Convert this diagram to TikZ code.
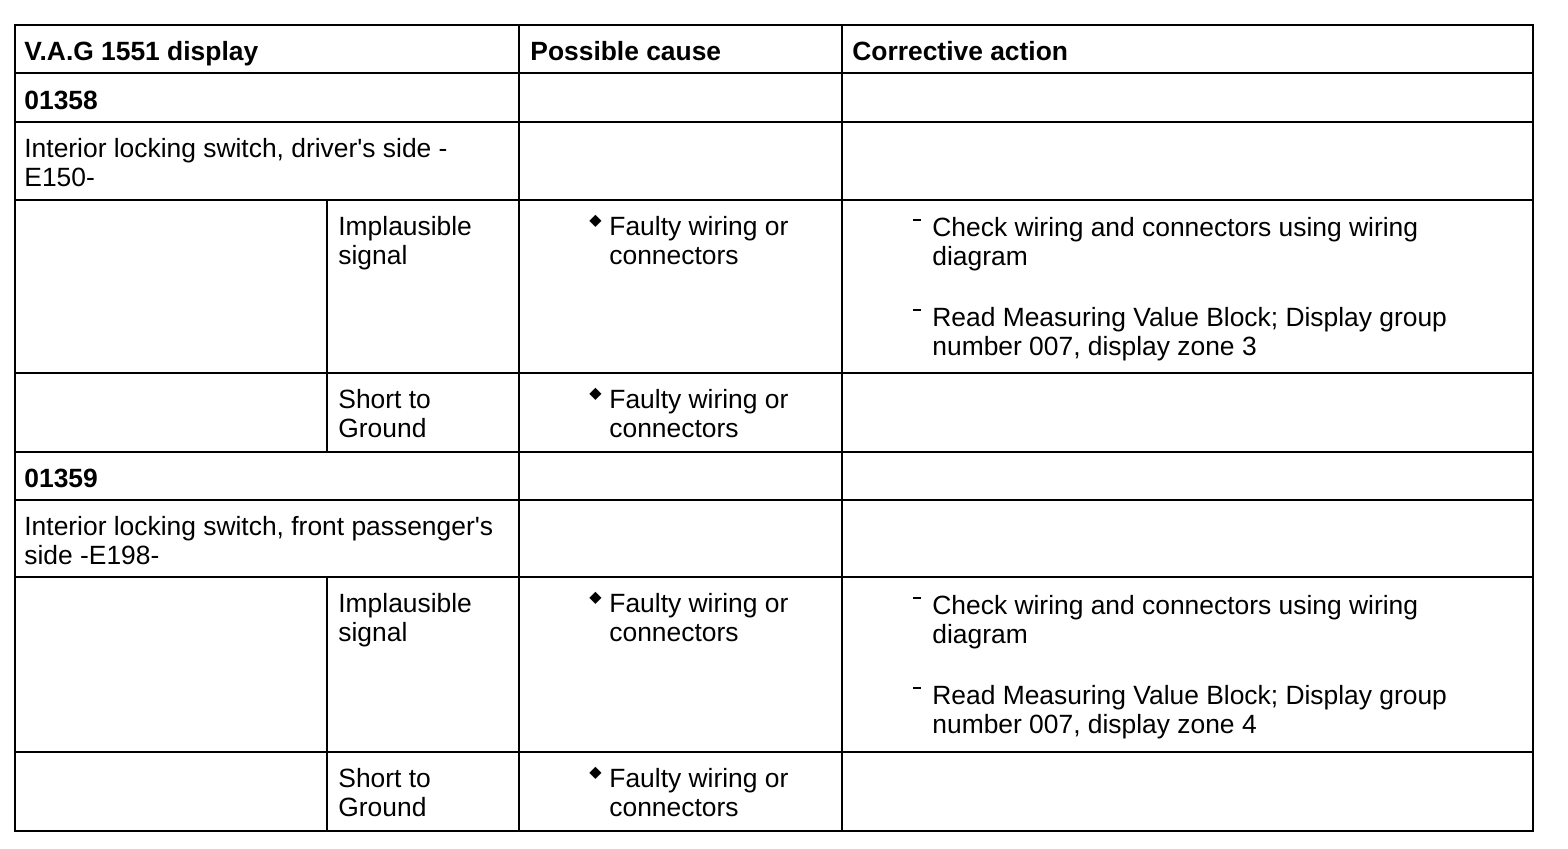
\documentclass[tikz,border=0pt]{standalone}
\usepackage{fontspec}
\setmainfont{Liberation Sans}
\newfontfamily\symfont{DejaVu Sans}
\tikzset{
  cell/.style={anchor=base west, inner sep=0pt, align=left,
    font=\fontsize{13.2}{14.5}\selectfont},
  cell2/.style={cell, yshift=-14.5pt},
  head/.style={cell, font=\bfseries\fontsize{13.2}{14.5}\selectfont},
  grid line/.style={line width=1.4pt},
}
\newcommand{\diamondmark}{\raisebox{4.6pt}{\symfont\fontsize{8}{8}\selectfont ◆}}
\newcommand{\dashmark}{\rule[7.6pt]{4pt}{1pt}}
\begin{document}
\begin{tikzpicture}[x=0.5pt,y=-0.5pt]
    \useasboundingbox (0,0) rectangle (1568,848);

        % rows
    \foreach \r in {25,73,122,200,373,452,500,577,752,831}
        \draw[grid line] (14,\r) -- (1534,\r);

        % columns
    \draw[grid line] (15,25)   -- (15,831);
    \draw[grid line] (519,25)  -- (519,831);
    \draw[grid line] (842,25)  -- (842,831);
    \draw[grid line] (1533,25) -- (1533,831);
    \draw[grid line] (327,200) -- (327,452);
    \draw[grid line] (327,577) -- (327,831);

        % header
    \node[head] (hdisplay) at (24,60)  {V.A.G 1551 display};
    \node[head] (hcause)   at (530,60) {Possible cause};
    \node[head] (haction)  at (852,60) {Corrective action};

        % 01358 (two-line cells placed by their first baseline)
    \node[head]  (codeA)   at (24,109) {01358};
    \node[cell2] (switchA) at (24,157) {Interior locking switch, driver\textquotesingle s side -\\E150-};
    \node[cell2] (implA)   at (338,235) {Implausible\\signal};
    \node[cell]  (markA)   at (589,235) {\diamondmark};
    \node[cell2] (causeA)  at (609,235) {Faulty wiring or\\connectors};
    \node[cell]  (dashA)   at (913,236) {\dashmark};
    \node[cell2] (checkA)  at (932,236) {Check wiring and connectors using wiring\\diagram};
    \node[cell]  (dashB)   at (913,326) {\dashmark};
    \node[cell2] (readA)   at (932,326) {Read Measuring Value Block; Display group\\number 007, display zone 3};
    \node[cell2] (shortA)  at (338,408) {Short to\\Ground};
    \node[cell]  (markB)   at (589,408) {\diamondmark};
    \node[cell2] (causeB)  at (609,408) {Faulty wiring or\\connectors};

        % 01359
    \node[head]  (codeB)   at (24,487) {01359};
    \node[cell2] (switchB) at (24,535) {Interior locking switch, front passenger\textquotesingle s\\side -E198-};
    \node[cell2] (implB)   at (338,612) {Implausible\\signal};
    \node[cell]  (markC)   at (589,612) {\diamondmark};
    \node[cell2] (causeC)  at (609,612) {Faulty wiring or\\connectors};
    \node[cell]  (dashC)   at (913,614) {\dashmark};
    \node[cell2] (checkB)  at (932,614) {Check wiring and connectors using wiring\\diagram};
    \node[cell]  (dashD)   at (913,704) {\dashmark};
    \node[cell2] (readB)   at (932,704) {Read Measuring Value Block; Display group\\number 007, display zone 4};
    \node[cell2] (shortB)  at (338,787) {Short to\\Ground};
    \node[cell]  (markD)   at (589,787) {\diamondmark};
    \node[cell2] (causeD)  at (609,787) {Faulty wiring or\\connectors};
\end{tikzpicture}
\end{document}
